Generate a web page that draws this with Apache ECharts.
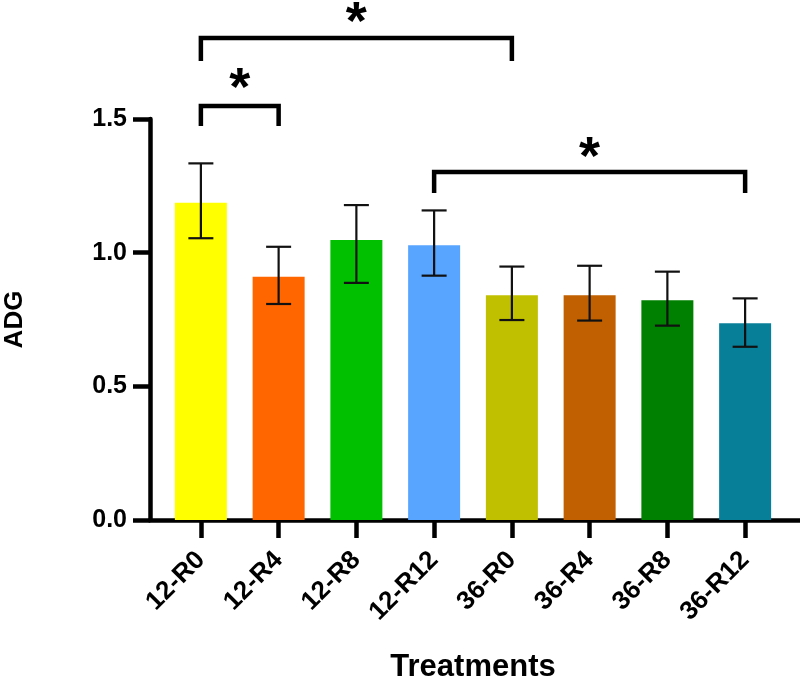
<!DOCTYPE html>
<html>
<head>
<meta charset="utf-8">
<script src="https://cdn.jsdelivr.net/npm/echarts@6/dist/echarts.min.js"></script>
<style>html,body{margin:0;padding:0;background:#fff;}#c{width:800px;height:683px;}</style>
</head>
<body>
<div id="c"></div>
<script>
const categories = ['12-R0', '12-R4', '12-R8', '12-R12', '36-R0', '36-R4', '36-R8', '36-R12'];
const means = [1.187, 0.910, 1.047, 1.028, 0.841, 0.841, 0.822, 0.736];
const errLow = [1.054, 0.808, 0.887, 0.914, 0.748, 0.746, 0.727, 0.648];
const errHigh = [1.334, 1.022, 1.178, 1.158, 0.948, 0.951, 0.929, 0.829];
const barColors = ['#FFFF00', '#FF6600', '#00C000', '#58A5FF', '#C0C000', '#C06000', '#008000', '#087F98'];
const yTicks = [0, 0.5, 1.0, 1.5];
// significance brackets: [from category, to category, top value, end value]
const brackets = [[0, 1, 1.549, 1.474], [0, 4, 1.803, 1.717], [3, 7, 1.302, 1.223]];
// stars: [from category, to category, value of star centre]
const stars = [[0, 1, 1.654], [0, 4, 1.900], [3, 7, 1.395]];
const starLabel = '*';

const FONT = "'Liberation Sans', Arial, sans-serif";
const yMin = yTicks[0], yMax = yTicks[yTicks.length - 1], yStep = yTicks[1] - yTicks[0];
const STAR_SIZE = 54;

const chart = echarts.init(document.getElementById('c'), null, {renderer: 'canvas'});
chart.setOption({
  animation: false,
  backgroundColor: '#fff',
  grid: [
    {left: 150, right: 0, top: 119, bottom: 163, containLabel: false, outerBoundsMode: 'none'},
    {left: 162, right: 16, top: 119, bottom: 163, containLabel: false, outerBoundsMode: 'none'}
  ],
  xAxis: [
    {
      gridIndex: 0, type: 'value', min: 0, max: 1,
      axisLine: {show: true, lineStyle: {color: '#000', width: 4.5}},
      axisTick: {show: false}, axisLabel: {show: false}, splitLine: {show: false}
    },
    {
      gridIndex: 1, type: 'category', data: categories,
      axisLine: {show: false},
      axisTick: {show: true, alignWithLabel: true, length: 18, lineStyle: {color: '#000', width: 4.5}},
      axisLabel: {rotate: 45, margin: 36, color: '#000', fontSize: 26, fontWeight: 'bold', fontFamily: FONT, interval: 0},
      name: 'Treatments', nameLocation: 'middle', nameGap: 132, nameMoveOverlap: false,
      nameTextStyle: {color: '#000', fontSize: 31, fontWeight: 'bold', fontFamily: FONT}
    }
  ],
  yAxis: [
    {
      gridIndex: 0, type: 'value', min: yMin, max: yMax, interval: yStep,
      axisLine: {show: true, lineStyle: {color: '#000', width: 4.5}},
      axisTick: {show: true, length: 17, lineStyle: {color: '#000', width: 4.5}},
      axisLabel: {margin: 23, color: '#000', fontSize: 25, fontWeight: 'bold', fontFamily: FONT,
        formatter: v => v.toFixed(1)},
      splitLine: {show: false},
      name: 'ADG', nameLocation: 'middle', nameGap: 122, nameMoveOverlap: false,
      nameTextStyle: {color: '#000', fontSize: 26, fontWeight: 'bold', fontFamily: FONT}
    },
    {
      gridIndex: 1, type: 'value', min: yMin, max: yMax, interval: yStep, show: false
    }
  ],
  series: [
    {
      type: 'bar', xAxisIndex: 1, yAxisIndex: 1, barWidth: 52,
      data: means.map((v, i) => ({value: v, itemStyle: {color: barColors[i]}}))
    },
    {
      type: 'custom', xAxisIndex: 1, yAxisIndex: 1,
      data: categories.map((c, i) => [i, errLow[i], errHigh[i]]),
      encode: {x: 0, y: [1, 2]},
      renderItem: function (params, api) {
        const x = api.value(0);
        const lo = api.coord([x, api.value(1)]);
        const hi = api.coord([x, api.value(2)]);
        const hw = 12.5;
        const st = {stroke: '#111', lineWidth: 2.2};
        return {type: 'group', children: [
          {type: 'line', shape: {x1: lo[0], y1: lo[1], x2: hi[0], y2: hi[1]}, style: st},
          {type: 'line', shape: {x1: hi[0] - hw, y1: hi[1], x2: hi[0] + hw, y2: hi[1]}, style: st},
          {type: 'line', shape: {x1: lo[0] - hw, y1: lo[1], x2: lo[0] + hw, y2: lo[1]}, style: st}
        ]};
      },
      z: 5
    },
    {
      type: 'custom', xAxisIndex: 1, yAxisIndex: 1, clip: false,
      data: brackets,
      encode: {x: [0, 1], y: [2, 3]},
      renderItem: function (params, api) {
        const a = api.value(0), b = api.value(1), top = api.value(2), end = api.value(3);
        const p1 = api.coord([a, end]), p2 = api.coord([a, top]);
        const p3 = api.coord([b, top]), p4 = api.coord([b, end]);
        return {type: 'polyline', shape: {points: [p1, p2, p3, p4]},
          style: {stroke: '#000', lineWidth: 4.5, fill: null, lineJoin: 'miter', lineCap: 'butt'}};
      },
      z: 6
    },
    {
      type: 'custom', xAxisIndex: 1, yAxisIndex: 1, clip: false,
      data: stars,
      encode: {x: [0, 1], y: 2},
      renderItem: function (params, api) {
        const pa = api.coord([api.value(0), api.value(2)]);
        const pb = api.coord([api.value(1), api.value(2)]);
        return {type: 'text', x: (pa[0] + pb[0]) / 2, y: pa[1] + 0.226 * STAR_SIZE,
          style: {text: starLabel, fill: '#000', fontSize: STAR_SIZE, fontWeight: 'bold', fontFamily: FONT,
            align: 'center', verticalAlign: 'middle'}};
      },
      z: 6
    }
  ]
});
</script>
</body>
</html>
